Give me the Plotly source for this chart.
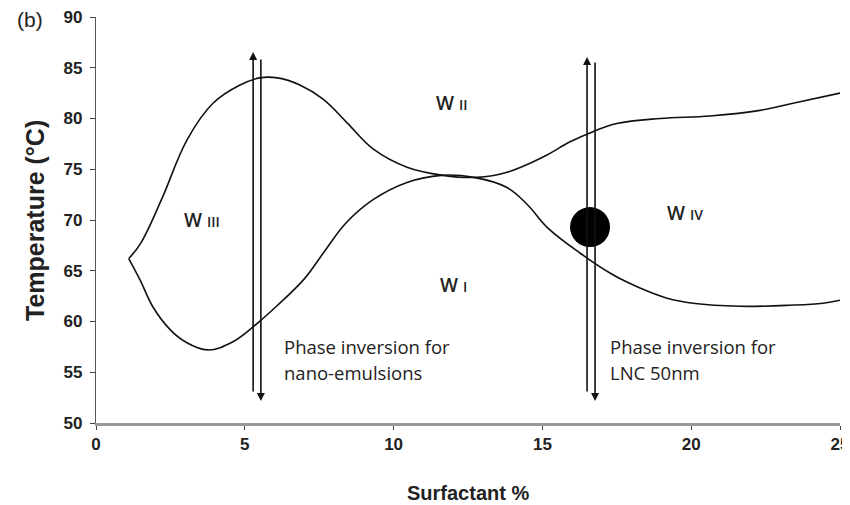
import plotly.graph_objects as go

# ---- data ----
upper_x = [1.1, 1.5, 2.2, 3.06, 3.93, 4.84, 5.5, 6.1, 6.85, 7.63, 8.43, 9.31, 10.45,
           11.66, 12.8, 13.81, 15.02, 15.93, 16.7, 17.5, 18.95, 20.63, 22.31, 23.42, 25.0]
upper_t = [66.2, 67.7, 72.0, 77.9, 81.5, 83.3, 84.0, 84.0, 83.3, 81.9, 79.6, 77.0, 75.2,
           74.4, 74.2, 74.7, 76.2, 77.7, 78.7, 79.5, 80.0, 80.25, 80.8, 81.5, 82.5]

lower_x = [1.1, 1.48, 1.92, 2.49, 3.0, 3.75, 4.6, 5.45, 6.1, 7.0, 7.7, 8.4, 9.31, 10.45,
           11.6, 12.7, 13.81, 14.5, 15.15, 16.26, 17.37, 18.28, 19.19, 20.06, 21.64,
           23.32, 24.43, 25.0]
lower_t = [66.2, 64.1, 61.4, 59.2, 58.0, 57.2, 58.0, 59.9, 61.6, 64.2, 67.0, 69.7, 72.0, 73.7,
           74.4, 74.2, 73.2, 71.5, 69.3, 66.75, 64.6, 63.3, 62.3, 61.8, 61.5,
           61.6, 61.8, 62.1]

# phase-inversion double arrows: (x of up line, x of down line)
arrow_up_x = [5.28, 16.5]
arrow_down_x = [5.54, 16.77]
arrow_up_top = [86.55, 86.06]
arrow_up_bottom = [52.96, 52.96]
arrow_down_top = [85.96, 85.67]
arrow_down_bottom = [52.17, 52.17]

dot_x = [16.6]
dot_t = [69.3]

region_labels = ["W <span style='font-size:14px'>III</span>",
                 "W <span style='font-size:14px'>II</span>",
                 "W <span style='font-size:14px'>IV</span>",
                 "W <span style='font-size:14px'>I</span>"]
region_x = [3.56, 11.96, 19.8, 12.0]
region_t = [70.0, 81.5, 70.7, 63.6]

note_lines = [["Phase inversion for", "nano-emulsions"],
              ["Phase inversion for", "LNC 50nm"]]
note_x = [6.25, 17.2]
note_t = [57.5, 57.5]

x_ticks = [0, 5, 10, 15, 20, 25]
y_ticks = [50, 55, 60, 65, 70, 75, 80, 85, 90]

fig = go.Figure()
line_style = dict(color="#111111", width=1.6, shape="spline", smoothing=1.1)
fig.add_trace(go.Scatter(x=upper_x, y=upper_t, mode="lines", line=line_style,
                         showlegend=False, hoverinfo="skip"))
fig.add_trace(go.Scatter(x=lower_x, y=lower_t, mode="lines", line=line_style,
                         showlegend=False, hoverinfo="skip"))
fig.add_trace(go.Scatter(x=dot_x, y=dot_t, mode="markers",
                         marker=dict(size=40, color="black"),
                         showlegend=False, hoverinfo="skip"))

annotations = []
arrow_style = dict(showarrow=True, text="", arrowhead=2, arrowsize=1.0, arrowwidth=1.6,
                   arrowcolor="#111111", xref="x", yref="y", axref="x", ayref="y")
for i in range(len(arrow_up_x)):
    annotations.append(dict(x=arrow_up_x[i], y=arrow_up_top[i],
                            ax=arrow_up_x[i], ay=arrow_up_bottom[i], **arrow_style))
    annotations.append(dict(x=arrow_down_x[i], y=arrow_down_bottom[i],
                            ax=arrow_down_x[i], ay=arrow_down_top[i], **arrow_style))

for lab, xx, tt in zip(region_labels, region_x, region_t):
    annotations.append(dict(x=xx, y=tt, text=lab, showarrow=False, xref="x", yref="y",
                            xanchor="center", yanchor="middle",
                            font=dict(family="Open Sans", size=19, color="#222222", weight=600)))

for lines, xx, tt in zip(note_lines, note_x, note_t):
    for k, txt in enumerate(lines):
        annotations.append(dict(x=xx, y=tt - k * 2.56, text=txt, showarrow=False,
                                xref="x", yref="y", xanchor="left", yanchor="middle",
                                font=dict(family="Open Sans", size=18.5, color="#222222")))

annotations.append(dict(x=-0.082, y=0.5, xref="paper", yref="paper", text="Temperature (°C)",
                        textangle=-90, showarrow=False, xanchor="center", yanchor="middle",
                        font=dict(family="Liberation Sans", size=25, color="#222222", weight="bold")))
annotations.append(dict(x=0.5, y=-0.172, xref="paper", yref="paper", text="Surfactant %",
                        showarrow=False, xanchor="center", yanchor="middle",
                        font=dict(family="Liberation Sans", size=20, color="#222222", weight="bold")))
annotations.append(dict(x=-0.0887, y=0.993, xref="paper", yref="paper", text="(b)",
                        showarrow=False, xanchor="center", yanchor="middle",
                        font=dict(family="Liberation Sans", size=21, color="#222222")))

# the page body adds an 8px margin, so the figure is sized to fit the window
fig.update_layout(
    width=842, height=497,
    margin=dict(l=88, r=10, t=9, b=82),
    paper_bgcolor="white", plot_bgcolor="white",
    annotations=annotations,
    xaxis=dict(range=[0, 25], tickvals=x_ticks, showgrid=False, zeroline=False,
               automargin=False, ticklabeloverflow="allow",
               showline=True, linecolor="#999999", linewidth=2.5,
               ticks="outside", ticklen=4, tickcolor="#444444", tickwidth=1,
               tickfont=dict(family="Liberation Sans", size=17, color="#222222", weight="bold")),
    yaxis=dict(range=[50, 90], tickvals=y_ticks, showgrid=False, zeroline=False,
               automargin=False, ticklabeloverflow="allow",
               showline=True, linecolor="#555555", linewidth=1.2,
               ticks="outside", ticklen=5, tickcolor="#444444", tickwidth=1,
               ticklabelstandoff=4,
               tickfont=dict(family="Liberation Sans", size=17, color="#222222", weight="bold")),
)

fig.write_html("out.html")
